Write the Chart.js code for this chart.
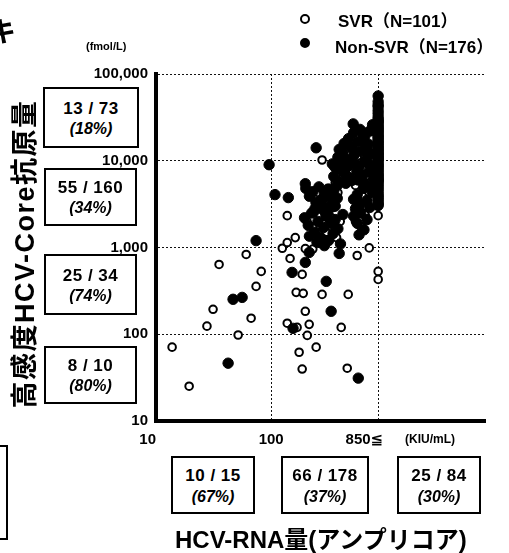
<!DOCTYPE html>
<html lang="ja">
<head>
<meta charset="utf-8">
<title>HCV-Core抗原量 / HCV-RNA量</title>
<script src="https://cdn.jsdelivr.net/npm/chart.js@4.4.1/dist/chart.umd.min.js"></script>
<style>
  body { margin: 0; background: #fff; }
  #wrap { position: relative; width: 509px; height: 553px; overflow: hidden;
          font-family: "Liberation Sans", Arial, "Noto Sans CJK JP", sans-serif; font-weight: bold; color: #000; }
  #grafico { position: absolute; left: 0; top: 0; }
  .box { position: absolute; box-sizing: border-box; border: 2px solid #000; background: #fff; text-align: center; }
  .box .n { display: block; font-size: 17px; letter-spacing: 0.5px; }
  .box .p { display: block; font-size: 16px; font-style: italic; }
  .txt { position: absolute; white-space: nowrap; }
  .mk { position: absolute; box-sizing: border-box; border-radius: 50%; border: 2px solid #000; }
</style>
</head>
<body>
<div id="wrap">
  <canvas id="grafico" width="509" height="553"></canvas>
  <div id="extras"></div>
</div>
<script>
// =============================
// DADOS
// =============================

// eixo Y (fmol/L)
const yTicks = [10, 100, 1000, 10000, 100000];
const yTickLabels = ['10', '100', '1,000', '10,000', '100,000'];

// eixo X (KIU/mL)
const xTicks = [10, 100, 850];
const xTickLabels = ['10', '100', '850≦'];

// SVR (N=101)  [HCV-RNA, Core抗原]
const svrPoints = [
  [13.8, 71], [19.4, 25.2], [27.7, 124], [31.3, 194], [35.3, 638], [51.7, 98],
  [60.7, 831], [67, 153], [74, 356], [82, 530],
  [175, 62], [246, 71], [186, 39.7], [458, 40.6], [206, 97],
  [125, 980], [138, 1140], [162, 1300], [198, 970], [146, 748],
  [186, 490], [559, 809], [711, 990], [165, 304], [190, 296],
  [277, 288], [467, 288], [198, 184], [138, 134], [168, 120],
  [214, 130], [406, 120], [277, 10200], [138, 2330], [657, 2330],
  [398, 2000], [295, 2500], [230, 960],
  [400, 12000], [480, 15000], [560, 11000], [620, 20000], [700, 13000],
  [350, 8500], [420, 6800], [510, 7800], [600, 9500], [680, 6200],
  [360, 5600], [450, 9000], [540, 5200], [630, 7000], [740, 5800],
  [220, 4200], [270, 3400], [310, 4800], [350, 2900], [250, 2600],
  [290, 3800], [560, 3800], [620, 2700], [700, 4400], [660, 3000],
  [205, 2000], [230, 1700], [265, 2300], [300, 1500], [335, 2200],
  [370, 1300], [280, 1900], [540, 2000], [600, 1750], [650, 2400],
  [320, 3200], [380, 4300], [240, 3600],
  [850, 530], [850, 429], [850, 2330],
  [850, 31000], [850, 24500], [850, 19500], [850, 16000], [850, 13500], [850, 11800], [850, 10400],
  [850, 9800], [850, 9300], [850, 8600], [850, 8000], [850, 7700], [850, 7300], [850, 6900],
  [850, 6600], [850, 5800], [850, 5400], [850, 5100], [850, 4600], [850, 4000], [850, 3600], [850, 3200]
];

// Non-SVR (N=176)
const nonSvrPoints = [
  [42.3, 46.4], [46.7, 253], [56, 266], [74, 1200], [96, 9000],
  [155, 117], [152, 516], [198, 673], [214, 877], [301, 407], [332, 184], [390, 854], [571, 31.2],
  [108, 4070], [141, 3760], [198, 5440], [246, 14100], [516, 26600], [619, 21500],
  [380, 11000], [420, 12500], [455, 10500], [500, 14000], [530, 11800], [560, 16500], [610, 13000],
  [650, 19000], [700, 15500], [740, 12000], [470, 18000], [520, 21000], [590, 23000], [680, 10800],
  [430, 15800], [390, 13500], [620, 17500], [720, 22000], [760, 26000], [545, 12600], [480, 10200], [660, 14500],
  [340, 9200], [370, 8100], [400, 9600], [430, 7200], [460, 8600], [490, 6300], [520, 9400], [555, 7600],
  [590, 8800], [620, 6800], [660, 9800], [700, 7400], [740, 8400], [780, 6100], [350, 6600], [380, 5700],
  [410, 7900], [445, 5500], [500, 5900], [570, 6000], [640, 5600], [720, 9000],
  [200, 4800], [215, 3900], [230, 4400], [245, 3300], [260, 5000], [275, 3600], [290, 4200], [305, 2900],
  [320, 4700], [340, 3400], [360, 3000], [375, 5200], [375, 3700], [300, 2400], [240, 2800], [265, 3100],
  [285, 2700], [330, 3900], [350, 4500], [520, 3600], [560, 4100], [600, 3200], [640, 4800], [680, 3500],
  [720, 2900], [760, 4300], [540, 2800], [700, 5100],
  [195, 2200], [210, 1800], [225, 2500], [240, 1500], [255, 2000], [270, 1300], [285, 1700], [300, 2300],
  [315, 1200], [330, 1900], [345, 1450], [360, 2100], [380, 1650], [400, 1100], [420, 2400], [250, 1150],
  [290, 1050], [215, 1350], [235, 2600], [310, 2550], [520, 2300], [560, 1900], [600, 2500], [640, 1600],
  [680, 2100], [580, 1400],
  [850, 55800], [850, 48000], [850, 44000], [850, 42000], [850, 38000], [850, 35000], [850, 32000],
  [850, 30000], [850, 29000], [850, 28000], [850, 26500], [850, 25000], [850, 24000], [850, 23000],
  [850, 22000], [850, 21000], [850, 20000], [850, 19200], [850, 18500], [850, 17800], [850, 17000],
  [850, 16300], [850, 15700], [850, 15000], [850, 14400], [850, 13800], [850, 13300], [850, 12800],
  [850, 12300], [850, 11900], [850, 11500], [850, 11100], [850, 10800], [850, 10500], [850, 10200],
  [850, 9600], [850, 9100], [850, 8700], [850, 8300], [850, 7900], [850, 7500], [850, 7100], [850, 6800],
  [850, 6500], [850, 6200], [850, 6000], [850, 5900], [850, 5600], [850, 5300], [850, 5000], [850, 4700],
  [850, 4400], [850, 4100], [850, 3900], [850, 3700], [850, 3500], [850, 3300], [850, 3150], [850, 3050]
];

// caixas: SVR / total por faixa
const leftBoxCounts = ['13 / 73', '55 / 160', '25 / 34', '8 / 10'];
const leftBoxPct = ['(18%)', '(34%)', '(74%)', '(80%)'];
const bottomBoxCounts = ['10 / 15', '66 / 178', '25 / 84'];
const bottomBoxPct = ['(67%)', '(37%)', '(30%)'];

// =============================
// TEXTOS E CAIXAS (HTML)
// =============================
const extras = document.getElementById('extras');
function addEl(cls, style, html) {
  const d = document.createElement('div');
  d.className = cls;
  d.style.cssText = style;
  d.innerHTML = html;
  extras.appendChild(d);
  return d;
}

const leftPos = [[43, 87, 96, 61], [44, 168, 93, 58], [44, 254, 93, 61], [44, 346, 93, 58]];
leftBoxCounts.forEach((c, i) => {
  const [l, t, w, h] = leftPos[i];
  addEl('box', `left:${l}px;top:${t}px;width:${w}px;height:${h}px;padding-top:${(h - 42) / 2}px;line-height:20px;`,
    `<span class="n">${c}</span><span class="p">${leftBoxPct[i]}</span>`);
});

const bottomPos = [[171, 456, 84, 58], [281, 456, 88, 58], [397, 456, 84, 58]];
bottomBoxCounts.forEach((c, i) => {
  const [l, t, w, h] = bottomPos[i];
  addEl('box', `left:${l}px;top:${t}px;width:${w}px;height:${h}px;padding-top:7px;line-height:21px;`,
    `<span class="n">${c}</span><span class="p">${bottomBoxPct[i]}</span>`);
});

// legenda
addEl('mk', 'left:300px;top:14px;width:10px;height:10px;background:#fff;', '');
addEl('mk', 'left:300px;top:38px;width:10px;height:10px;background:#000;', '');
addEl('txt', 'left:338px;top:7px;font-size:17px;', 'SVR（N=101）');
addEl('txt', 'left:335px;top:33px;font-size:17px;', 'Non-SVR（N=176）');

// unidades e títulos
addEl('txt', 'left:86px;top:40px;font-size:11px;', '(fmol/L)');
addEl('txt', 'left:405px;top:432px;font-size:12px;', '(KIU/mL)');
addEl('txt', 'left:175px;top:527px;height:26px;line-height:26px;font-size:24px;', 'HCV-RNA量(アンプリコア)');
addEl('txt', 'left:-145px;top:239px;width:340px;height:30px;line-height:30px;text-align:center;font-size:27px;letter-spacing:1.5px;transform:rotate(-90deg);',
  '高感度HCV-Core抗原量');
// restos cortados na borda esquerda
addEl('txt', 'left:-12px;top:10px;font-size:28px;', 'キ');
addEl('box', 'left:-60px;top:445px;width:68px;height:95px;', '');

// =============================
// GRÁFICO - Chart.js
// =============================
const xTickAlign = ['right', 'center', 'right'];
const xTickShift = [0, 0, 5];

const xTickLabelPlugin = {
  id: 'xTickLabels',
  afterDraw(chart) {
    const { ctx, scales: { x } } = chart;
    ctx.save();
    ctx.font = 'bold 15px "Liberation Sans", Arial, "DejaVu Sans", sans-serif';
    ctx.fillStyle = '#000';
    ctx.textBaseline = 'middle';
    xTicks.forEach((v, i) => {
      ctx.textAlign = xTickAlign[i];
      ctx.fillText(xTickLabels[i], x.getPixelForValue(v) + xTickShift[i], x.top + 19);
    });
    ctx.restore();
  }
};

const gridColor = c => (c.tick && c.tick.value === 10 ? 'rgba(0,0,0,0)' : '#111');

new Chart(document.getElementById('grafico'), {
  type: 'scatter',
  data: {
    datasets: [
      {
        label: 'Non-SVR (N=176)',
        data: nonSvrPoints.map(([x, y]) => ({ x, y })),
        order: 0,
        pointRadius: 5.2,
        pointBackgroundColor: '#000',
        pointBorderColor: '#000',
        pointBorderWidth: 1
      },
      {
        label: 'SVR (N=101)',
        data: svrPoints.map(([x, y]) => ({ x, y })),
        order: 1,
        pointRadius: 3.8,
        pointBackgroundColor: '#fff',
        pointBorderColor: '#000',
        pointBorderWidth: 2
      }
    ]
  },
  options: {
    responsive: false,
    animation: false,
    layout: { padding: { top: 74, right: 24, left: 0, bottom: 0 } },
    plugins: { legend: { display: false }, tooltip: { enabled: false } },
    scales: {
      x: {
        type: 'logarithmic',
        min: 10,
        max: 7200,
        afterBuildTicks: s => { s.ticks = xTicks.map(v => ({ value: v })); },
        afterFit: s => { s.height = 132; },
        ticks: { display: false },
        grid: { color: gridColor, lineWidth: 1, drawTicks: false },
        border: { display: true, color: '#000', width: 4, dash: [2, 2] }
      },
      y: {
        type: 'logarithmic',
        min: 10,
        max: 100000,
        afterBuildTicks: s => { s.ticks = yTicks.map(v => ({ value: v })); },
        afterFit: s => { s.width = 156; },
        ticks: {
          padding: 8,
          color: '#000',
          font: { family: '"Liberation Sans", Arial, sans-serif', size: 15, weight: 'bold' },
          callback: v => yTickLabels[yTicks.indexOf(v)]
        },
        grid: { color: gridColor, lineWidth: 1, drawTicks: false },
        border: { display: true, color: '#000', width: 4, dash: [2, 2] }
      }
    }
  },
  plugins: [xTickLabelPlugin]
});
</script>
</body>
</html>
